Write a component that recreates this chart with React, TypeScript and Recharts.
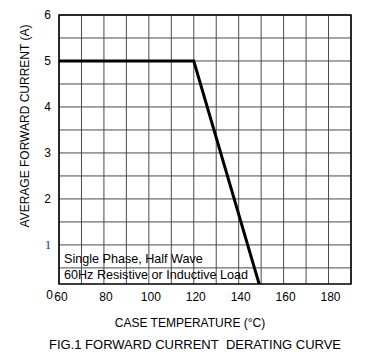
import {
    LineChart,
    Line,
    XAxis,
    YAxis,
    CartesianGrid,
    ReferenceArea,
} from 'recharts';

// derating curve: case temperature (°C) vs. average forward current (A)
const caseTemp = [60, 120, 150];
const forwardCurrent = [5, 5, 0];

const xTicks = [60, 80, 100, 120, 140, 160, 180];
const yTicks = [0.15, 1, 2, 3, 4, 5, 6];
const xGrid = [60, 70, 80, 90, 100, 110, 120, 130, 140, 150, 160, 170, 180, 190];
const yGrid = [0.5, 1, 1.5, 2, 2.5, 3, 3.5, 4, 4.5, 5, 5.5, 6];

const noteLines = ['Single Phase, Half Wave', '60Hz Resistive or Inductive Load'];

const data = caseTemp.map((t, i) => ({ t, a: forwardCurrent[i] }));

const FONT = 'Arial, "Liberation Sans", sans-serif';

function YTick({ x, y, payload }: any) {
    const v = payload.value;
    const isZero = v < 0.5;
    const isOne = v === 1;
    return (
        <text
            x={x + (isZero ? 2 : 0)}
            y={y + (isZero ? 11 : 0)}
            dy={4}
            textAnchor="end"
            fontSize={12}
            fontFamily={isOne ? '"Liberation Serif", serif' : FONT}
            fill={isOne ? '#1a1a55' : '#000'}
        >
            {isZero ? '0' : v}
        </text>
    );
}

export default function App() {
    return (
        <div style={{ position: 'relative', width: 374, height: 350, fontFamily: FONT, color: '#000' }}>
            <LineChart
                width={374}
                height={350}
                data={data}
                margin={{ top: 7, right: 31, bottom: 44, left: 0 }}
            >
                <CartesianGrid
                    stroke="#4a4a4a"
                    strokeWidth={1}
                    horizontalValues={yGrid}
                    verticalValues={xGrid}
                />
                <XAxis
                    dataKey="t"
                    type="number"
                    domain={[60, 190]}
                    ticks={xTicks}
                    interval={0}
                    tickLine={false}
                    axisLine={false}
                    height={30}
                    dx={2}
                    tick={{ fontSize: 12, fill: '#000', fontFamily: FONT }}
                />
                <YAxis
                    type="number"
                    domain={[0.15, 6]}
                    ticks={yTicks}
                    interval={0}
                    allowDataOverflow
                    tickLine={false}
                    axisLine={false}
                    width={51}
                    tick={<YTick />}
                />
                <ReferenceArea
                    x1={60}
                    x2={190}
                    y1={0.15}
                    y2={6}
                    fill="none"
                    stroke="#000"
                    strokeWidth={1.5}
                    fillOpacity={0}
                />
                <Line
                    type="linear"
                    dataKey="a"
                    stroke="#000"
                    strokeWidth={3}
                    dot={false}
                    isAnimationActive={false}
                />
            </LineChart>
            <div
                style={{
                    position: 'absolute',
                    left: 17,
                    top: 118,
                    transform: 'translate(-50%, -50%) rotate(-90deg)',
                    whiteSpace: 'nowrap',
                    fontSize: 12,
                }}
            >
                AVERAGE FORWARD CURRENT (A)
            </div>
            {noteLines.map((line, i) => (
                <div
                    key={line}
                    style={{
                        position: 'absolute',
                        left: 56,
                        top: 244 + i * 16,
                        fontSize: 12.6,
                        lineHeight: '14px',
                        whiteSpace: 'nowrap',
                    }}
                >
                    {line}
                </div>
            ))}
            <div
                style={{
                    position: 'absolute',
                    left: 182,
                    top: 315,
                    transform: 'translate(-50%, -50%)',
                    whiteSpace: 'nowrap',
                    fontSize: 12,
                }}
            >
                CASE TEMPERATURE (°C)
            </div>
            <div
                style={{
                    position: 'absolute',
                    left: 187,
                    top: 336,
                    transform: 'translate(-50%, -50%)',
                    whiteSpace: 'nowrap',
                    fontSize: 13,
                }}
            >
                FIG.1 FORWARD CURRENT&nbsp; DERATING CURVE
            </div>
        </div>
    );
}
